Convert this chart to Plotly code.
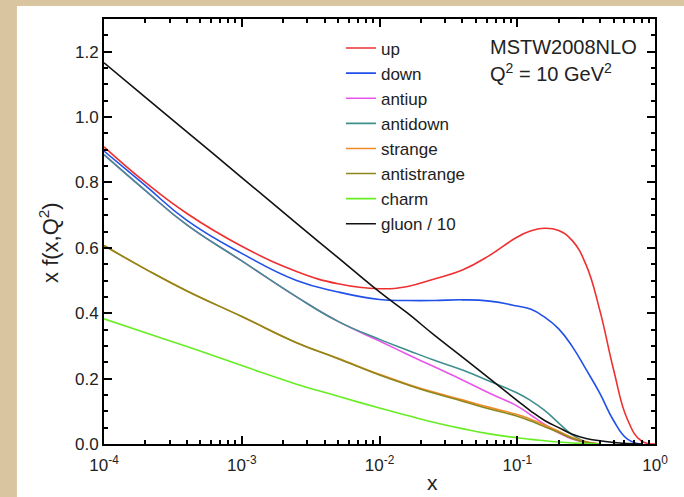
import plotly.graph_objects as go

# x grid (momentum fraction)
X = [1e-4, 2e-4, 4e-4, 1e-3, 2.5e-3, 5e-3, 1e-2, 0.016, 0.025, 0.04, 0.063,
     0.1, 0.126, 0.158, 0.2, 0.251, 0.316, 0.398, 0.5, 0.631, 0.794, 1.0]

up = [0.909, 0.800, 0.705, 0.605, 0.528, 0.490, 0.475, 0.482, 0.505, 0.532, 0.577,
      0.633, 0.652, 0.660, 0.653, 0.622, 0.548, 0.408, 0.228, 0.075, 0.010, 0.0]
down = [0.896, 0.790, 0.684, 0.583, 0.500, 0.465, 0.442, 0.439, 0.439, 0.441, 0.437,
        0.422, 0.412, 0.388, 0.352, 0.298, 0.228, 0.155, 0.072, 0.015, 0.0]
antiup = [0.885, 0.775, 0.670, 0.560, 0.450, 0.375, 0.315, 0.274, 0.236, 0.196, 0.155,
          0.116, 0.088, 0.060, 0.034, 0.015, 0.005, 0.0]
antidown = [0.885, 0.775, 0.670, 0.560, 0.450, 0.375, 0.320, 0.287, 0.256, 0.226, 0.192,
            0.156, 0.132, 0.103, 0.064, 0.028, 0.006, 0.0]
strange = [0.607, 0.535, 0.468, 0.390, 0.310, 0.262, 0.213, 0.183, 0.158, 0.135, 0.112,
           0.090, 0.075, 0.058, 0.039, 0.020, 0.007, 0.0]
antistrange = [0.607, 0.535, 0.468, 0.390, 0.310, 0.261, 0.211, 0.181, 0.155, 0.131, 0.107,
               0.085, 0.070, 0.053, 0.035, 0.017, 0.005, 0.0]
charm = [0.383, 0.340, 0.298, 0.240, 0.183, 0.146, 0.110, 0.087, 0.066, 0.047, 0.031,
         0.019, 0.014, 0.010, 0.006, 0.003, 0.001, 0.0]
gluon10 = [1.166, 1.060, 0.955, 0.815, 0.675, 0.570, 0.465, 0.400, 0.333, 0.266, 0.200,
           0.133, 0.100, 0.072, 0.050, 0.030, 0.017, 0.010, 0.005, 0.001, 0.0]

names = ["up", "down", "antiup", "antidown", "strange", "antistrange", "charm", "gluon / 10"]
series = [up, down, antiup, antidown, strange, antistrange, charm, gluon10]
colors = ["#ee3030", "#2050e8", "#e855ea", "#3f8f8c", "#f08a26", "#8c861c", "#66ee22", "#111111"]

x_tickvals = [1e-4, 1e-3, 1e-2, 1e-1, 1.0]
x_ticktext = ["10<sup>-4</sup>", "10<sup>-3</sup>", "10<sup>-2</sup>", "10<sup>-1</sup>", "10<sup>0</sup>"]
x_minor = [m * 10 ** e for e in range(-4, 0) for m in range(2, 10)]

FONT = "Liberation Sans, Arial, sans-serif"
BEIGE = "#d9c6a0"

fig = go.Figure()
for name, ys, col in zip(names, series, colors):
    fig.add_trace(go.Scatter(
        x=X[:len(ys)], y=ys, name=name, mode="lines",
        line=dict(color=col, width=1.6, shape="spline", smoothing=1.3),
    ))

fig.update_xaxes(
    type="log", range=[-4, 0], tickvals=x_tickvals, ticktext=x_ticktext,
    ticks="inside", ticklen=8, tickwidth=1.5, tickcolor="black",
    showline=True, linewidth=2, linecolor="black", mirror="ticks",
    showgrid=False, zeroline=False, ticklabelstandoff=5,
    minor=dict(ticks="inside", ticklen=4, tickwidth=1.5, tickcolor="black",
               tickvals=x_minor, showgrid=False),
    tickfont=dict(size=17, family=FONT, color="#222"),
)
fig.update_yaxes(
    range=[0, 1.3], tick0=0, dtick=0.2, tickformat=".1f",
    ticks="inside", ticklen=8, tickwidth=1.5, tickcolor="black",
    showline=True, linewidth=2, linecolor="black", mirror="ticks",
    showgrid=False, zeroline=False,
    minor=dict(ticks="inside", ticklen=4, tickwidth=1.5, tickcolor="black",
               dtick=0.05, showgrid=False),
    tickfont=dict(size=17, family=FONT, color="#222"),
)

# beige frame: left strip and top strip (rest of page is white)
fig.add_shape(type="rect", xref="paper", yref="paper", x0=-0.1888, x1=-0.158,
              y0=-0.1247, y1=1.0447, fillcolor=BEIGE, line=dict(width=0), layer="below")
fig.add_shape(type="rect", xref="paper", yref="paper", x0=-0.1888, x1=1.0526,
              y0=1.0306, y1=1.0447, fillcolor=BEIGE, line=dict(width=0), layer="below")

fig.add_annotation(text="MSTW2008NLO", xref="paper", yref="paper", x=0.697, y=0.934,
                   xanchor="left", yanchor="middle", showarrow=False,
                   font=dict(size=20, family=FONT, color="#222"))
fig.add_annotation(text="Q<sup>2</sup> = 10 GeV<sup>2</sup>", xref="paper", yref="paper",
                   x=0.697, y=0.875, xanchor="left", yanchor="middle", showarrow=False,
                   font=dict(size=20, family=FONT, color="#222"))
fig.add_annotation(text="x", xref="paper", yref="paper", x=0.597, y=-0.1224,
                   xanchor="center", yanchor="bottom", showarrow=False,
                   font=dict(size=21, family=FONT, color="#222"))
fig.add_annotation(text="x f(x,Q<sup>2</sup>)", xref="paper", yref="paper", x=-0.0998, y=0.473,
                   xanchor="center", yanchor="middle", showarrow=False, textangle=-90,
                   font=dict(size=22, family=FONT, color="#222"))

fig.update_layout(
    width=684, height=497,
    margin=dict(l=104, r=29, t=19, b=53),
    paper_bgcolor="white", plot_bgcolor="white",
    showlegend=True,
    legend=dict(x=0.43, y=0.973, xanchor="left", yanchor="top",
                bgcolor="rgba(0,0,0,0)", font=dict(size=17, family=FONT, color="#222"),
                tracegroupgap=0),
)

fig.write_html("out.html")
